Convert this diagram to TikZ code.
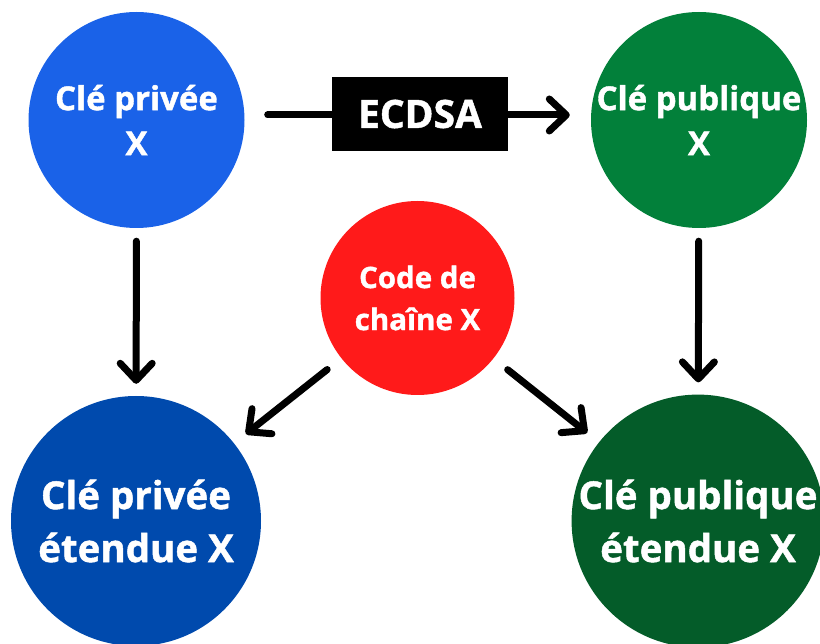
\documentclass[tikz,border=0pt]{standalone}
\usepackage{fontspec}
\setmainfont{Open Sans}[BoldFont={* Bold}, BoldFeatures={FakeBold=1.2}]
\usetikzlibrary{arrows.meta}
\definecolor{cblue}{RGB}{26,98,232}
\definecolor{cgreen}{RGB}{2,128,58}
\definecolor{cred}{RGB}{255,26,26}
\definecolor{cdblue}{RGB}{0,74,173}
\definecolor{cdgreen}{RGB}{4,92,41}
\tikzset{
  keynode/.style={circle, inner sep=0pt, text=white, align=center, font=\bfseries},
  small/.style={keynode, minimum size=216pt, font=\fontsize{33}{45}\selectfont\bfseries},
  big/.style={keynode, minimum size=250pt, font=\fontsize{38.5}{53}\selectfont\bfseries},
  mid/.style={keynode, minimum size=194pt, font=\fontsize{29.5}{42}\selectfont\bfseries},
  arr/.style={line width=7pt, line cap=round, -{Straight Barb[length=17pt,width=32pt,round]}},
  algbox/.style={fill=black, text=white, inner sep=0pt, minimum width=176pt, minimum height=74pt, font=\fontsize{39}{48}\selectfont\bfseries}
}
\begin{document}
\begin{tikzpicture}[x=1pt,y=-1pt]
\useasboundingbox (0,0) rectangle (820,644);
\node[small, fill=cblue] (c1) at (136.5,120) {Clé privée\\X};
\node[small, fill=cgreen] (c2) at (699,120) {Clé publique\\X};
\node[mid, fill=cred] (c3) at (417.5,298) {Code de\\chaîne X};
\node[big, fill=cdblue] (c4) at (136,521) {Clé privée\\étendue X};
\node[big, fill=cdgreen] (c5) at (698,521) {Clé publique\\étendue X};
\draw[arr, shorten <=23pt, shorten >=21pt] ([yshift=5pt]c1.east) -- ([yshift=5pt]c2.west);
\node[algbox] (alg) at (420,114) {ECDSA};
\draw[arr, shorten <=13pt, shorten >=12pt] (c1) -- (c4);
\draw[arr, shorten <=13pt, shorten >=12pt] (c2) -- (c5);
\draw[arr, shorten <=18pt, shorten >=15pt] (c3) -- (c4);
\draw[arr, shorten <=18pt, shorten >=15pt] (c3) -- (c5);
\end{tikzpicture}
\end{document}
